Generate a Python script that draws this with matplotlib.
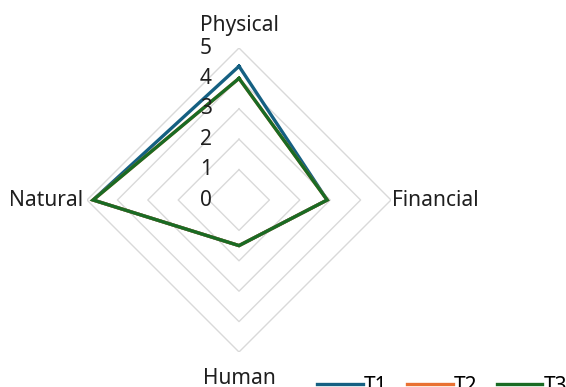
import numpy as np
import matplotlib
matplotlib.use("Agg")
import matplotlib.pyplot as plt

plt.rcParams['font.family'] = ['Noto Sans', 'DejaVu Sans']

# categories, clockwise from the top
categories = ["Physical", "Financial", "Human", "Natural"]
series_names = ["T1", "T2", "T3"]
t1 = [4.4, 2.9, 1.5, 4.8]
t2 = [4.0, 2.9, 1.5, 4.8]
t3 = [4.0, 2.9, 1.5, 4.8]
levels = [0, 1, 2, 3, 4, 5]
colors = ["#156082", "#E97132", "#196B24"]

W, H = 566, 387
fig = plt.figure(figsize=(W / 100, H / 100), dpi=100)

# polar axes centred at (239, 200) px with radius 152 px for r = 5
cx, cy, rad = 239, 200, 152
ax = fig.add_axes([(cx - rad) / W, (H - cy - rad) / H, 2 * rad / W, 2 * rad / H],
                  projection="polar")
ax.set_theta_zero_location("N")
ax.set_theta_direction(-1)
ax.set_ylim(0, max(levels))
ax.grid(False)
ax.spines["polar"].set_visible(False)
ax.set_xticks([])
ax.set_yticks([])

angles = np.arange(len(categories)) * 2 * np.pi / len(categories)
closed = np.append(angles, angles[0])

# diamond gridlines
for lv in levels[1:]:
    ax.plot(closed, [lv] * len(closed), color="#d9d9d9", lw=1.0, zorder=1)

# series
for name, vals, col in zip(series_names, [t1, t2, t3], colors):
    ax.plot(closed, list(vals) + [vals[0]], color=col, lw=2.4,
            solid_joinstyle="miter", label=name, zorder=3)

txt = "#1f1f1f"
fs = 15

# value labels along the top spoke
for lv in levels:
    ax.annotate(str(lv), xy=(0, lv), xytext=(-24, 0), textcoords="offset points",
                ha="center", va="center", fontsize=fs, color=txt)

# category labels
ax.annotate(categories[0], xy=(0, 5), xytext=(0, 16), textcoords="offset points",
            ha="center", va="center", fontsize=fs, color=txt)
ax.annotate(categories[1], xy=(angles[1], 5), xytext=(1, 0), textcoords="offset points",
            ha="left", va="center", fontsize=fs, color=txt)
ax.annotate(categories[2], xy=(angles[2], 5), xytext=(0, -19), textcoords="offset points",
            ha="center", va="center", fontsize=fs, color=txt)
ax.annotate(categories[3], xy=(angles[3], 5), xytext=(-3, 0), textcoords="offset points",
            ha="right", va="center", fontsize=fs, color=txt)

handles, labels = ax.get_legend_handles_labels()
fig.legend(handles, labels, loc="center left", bbox_to_anchor=(317 / W, 1 / H),
           ncol=3, frameon=False, fontsize=fs, handlelength=2.2,
           handletextpad=0.05, columnspacing=0.93, borderpad=0, borderaxespad=0)

fig.savefig("out.png", dpi=100)
